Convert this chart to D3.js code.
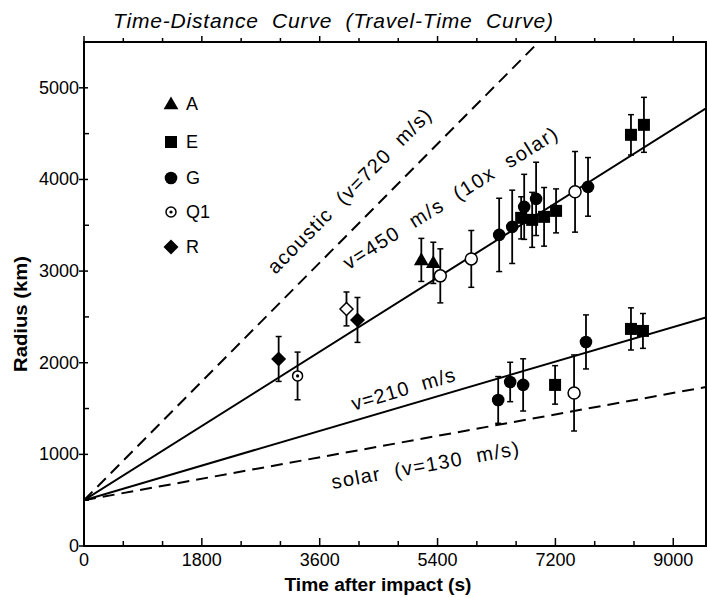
<!DOCTYPE html>
<html>
<head>
<meta charset="utf-8">
<script src="https://cdn.jsdelivr.net/npm/d3@7"></script>
<style>
  body { margin: 0; background: #fff; }
  svg text { font-family: "Liberation Sans", Arial, Helvetica, sans-serif; fill: #000; }
</style>
</head>
<body>
<svg id="chart" width="707" height="598"></svg>
<script>
// travel-time model lines (R = R0 + v t)
const lineVel = [720, 450, 210, 130];          // m/s
const lineDash = [true, false, false, true];
const lineLabel = ["acoustic  (v=720  m/s)", "v=450  m/s  (10x  solar)", "v=210  m/s", "solar  (v=130  m/s)"];
const startRadius = 500;                         // km at t=0

// observations: time (s), radius (km), error (km), marker type
const obsTime = [2973, 3262, 4009, 4177, 5152, 5335, 5442, 5915, 6341, 6540, 6677, 6723, 6845, 6905, 7027, 7210, 7500, 7698, 8354, 8552,
                 6326, 6509, 6707, 7195, 7485, 7667, 8354, 8537];
const obsRadius = [2041, 1856, 2587, 2467, 3122, 3090, 2948, 3133, 3395, 3483, 3581, 3701, 3559, 3788, 3592, 3657, 3865, 3919, 4487, 4596,
                   1594, 1790, 1758, 1758, 1670, 2227, 2369, 2347];
const obsError = [245, 260, 185, 245, 235, 225, 295, 310, 400, 400, 230, 355, 300, 400, 320, 240, 440, 320, 220, 300,
                  255, 215, 285, 210, 415, 295, 230, 190];
const obsType = ["R", "Q1", "Ro", "R", "A", "A", "o", "o", "G", "G", "E", "G", "E", "G", "E", "E", "o", "G", "E", "E",
                 "G", "G", "G", "E", "o", "G", "E", "E"];

const legendKeys = ["A", "E", "G", "Q1", "R"];

const xTicks = [0, 1800, 3600, 5400, 7200, 9000];
const yTicks = [0, 1000, 2000, 3000, 4000, 5000];

const svg = d3.select("#chart");
const L = 84, R = 706, T = 42, B = 546;

const x = d3.scaleLinear().domain([0, 9500]).range([L, R]);
const y = d3.scaleLinear().domain([0, 5500]).range([B, T]);

svg.append("clipPath").attr("id", "plotclip")
  .append("rect").attr("x", L).attr("y", T).attr("width", R - L).attr("height", B - T);

// title
svg.append("text")
  .attr("x", 113).attr("y", 28)
  .attr("font-size", 21).attr("font-style", "italic")
  .attr("textLength", 440).attr("lengthAdjust", "spacing")
  .style("white-space", "pre")
  .text("Time-Distance  Curve  (Travel-Time  Curve)");

// frame
svg.append("rect")
  .attr("x", L).attr("y", T).attr("width", R - L).attr("height", B - T)
  .attr("fill", "none").attr("stroke", "#000").attr("stroke-width", 2);

// x ticks (inward from bottom, outward on top)
const xMinor = d3.range(0, 9500, 600);
svg.append("g").selectAll("line").data(xMinor).enter().append("line")
  .attr("x1", d => x(d)).attr("x2", d => x(d))
  .attr("y1", B).attr("y2", d => B - (d % 1800 === 0 ? 8 : 5))
  .attr("stroke", "#000").attr("stroke-width", 1.5);
svg.append("g").selectAll("line").data(xMinor).enter().append("line")
  .attr("x1", d => x(d)).attr("x2", d => x(d))
  .attr("y1", T).attr("y2", d => T - (d % 1800 === 0 ? 6 : 4))
  .attr("stroke", "#000").attr("stroke-width", 1.5);
svg.selectAll(".xlab").data(xTicks).enter().append("text")
  .attr("class", "xlab")
  .attr("x", d => x(d)).attr("y", B + 20)
  .attr("text-anchor", "middle").attr("font-size", 18)
  .text(d => d);

// y ticks
svg.append("g").selectAll("line").data(d3.range(0, 5500, 500)).enter().append("line")
  .attr("x1", d => d % 1000 === 0 ? L - 5 : L).attr("x2", d => L + (d % 1000 === 0 ? 4 : 5))
  .attr("y1", d => y(d)).attr("y2", d => y(d))
  .attr("stroke", "#000").attr("stroke-width", 1.5);
svg.selectAll(".ylab").data(yTicks).enter().append("text")
  .attr("class", "ylab")
  .attr("x", L - 5).attr("y", d => y(d) + 6)
  .attr("text-anchor", "end").attr("font-size", 18)
  .text(d => d);

// axis titles
svg.append("text")
  .attr("x", 378).attr("y", 591)
  .attr("text-anchor", "middle").attr("font-size", 18).attr("font-weight", "bold")
  .attr("textLength", 187).attr("lengthAdjust", "spacingAndGlyphs")
  .text("Time after impact (s)");
svg.append("text")
  .attr("transform", `translate(27,314) rotate(-90)`)
  .attr("text-anchor", "middle").attr("font-size", 18).attr("font-weight", "bold")
  .attr("textLength", 116).attr("lengthAdjust", "spacingAndGlyphs")
  .text("Radius (km)");

// model lines
const lineGen = d3.line().x(d => x(d[0])).y(d => y(d[1]));
const lines = svg.append("g").attr("clip-path", "url(#plotclip)");
lineVel.forEach((v, i) => {
  const tEnd = 9500;
  lines.append("path")
    .attr("d", lineGen([[0, startRadius], [tEnd, startRadius + v / 1000 * tEnd]]))
    .attr("fill", "none").attr("stroke", "#000").attr("stroke-width", 2)
    .attr("stroke-dasharray", lineDash[i] ? "12,7" : null);
});

// line labels, rotated along each line
const labelPos = [[349, 191], [450, 198], [403, 389], [425, 465]];
const labelLen = [223, 249, 107, 190];
lineVel.forEach((v, i) => {
  const slope = (y(0) - y(v)) / (x(1000) - x(0));
  const ang = -Math.atan(slope) * 180 / Math.PI;
  svg.append("text")
    .attr("transform", `translate(${labelPos[i][0]},${labelPos[i][1]}) rotate(${ang})`)
    .attr("text-anchor", "middle").attr("dy", "0.35em")
    .attr("font-size", 20)
    .attr("textLength", labelLen[i]).attr("lengthAdjust", "spacing")
    .style("white-space", "pre")
    .text(lineLabel[i]);
});

// markers
function drawMarker(g, type, cx, cy) {
  if (type === "A") {
    g.append("path").attr("d", d3.symbol(d3.symbolTriangle, 95)()).attr("transform", `translate(${cx},${cy + 1})`).attr("fill", "#000");
  } else if (type === "E") {
    g.append("rect").attr("x", cx - 6).attr("y", cy - 6).attr("width", 12).attr("height", 12).attr("fill", "#000");
  } else if (type === "G") {
    g.append("circle").attr("cx", cx).attr("cy", cy).attr("r", 6.3).attr("fill", "#000");
  } else if (type === "Q1") {
    g.append("circle").attr("cx", cx).attr("cy", cy).attr("r", 5).attr("fill", "#fff").attr("stroke", "#000").attr("stroke-width", 1.5);
    g.append("circle").attr("cx", cx).attr("cy", cy).attr("r", 1.6).attr("fill", "#000");
  } else if (type === "o") {
    g.append("circle").attr("cx", cx).attr("cy", cy).attr("r", 6).attr("fill", "#fff").attr("stroke", "#000").attr("stroke-width", 1.5);
  } else if (type === "R" || type === "Ro") {
    const s = type === "R" ? 7.5 : 6.5;
    g.append("path").attr("d", `M0,${-s}L${s},0L0,${s}L${-s},0Z`).attr("transform", `translate(${cx},${cy})`)
      .attr("fill", type === "R" ? "#000" : "#fff")
      .attr("stroke", "#000").attr("stroke-width", type === "R" ? 0 : 1.5);
  }
}

const pts = svg.append("g");
obsTime.forEach((t, i) => {
  const cx = x(t), r = obsRadius[i], e = obsError[i];
  const g = pts.append("g");
  g.append("line").attr("x1", cx).attr("x2", cx).attr("y1", y(r - e)).attr("y2", y(r + e))
    .attr("stroke", "#000").attr("stroke-width", 1.8);
  [r - e, r + e].forEach(v => g.append("line")
    .attr("x1", cx - 3).attr("x2", cx + 3).attr("y1", y(v)).attr("y2", y(v))
    .attr("stroke", "#000").attr("stroke-width", 1.5));
  drawMarker(g, obsType[i], cx, y(r));
});

// legend
const legY = [104, 142, 178, 212, 247];
legendKeys.forEach((k, i) => {
  const g = svg.append("g");
  drawMarker(g, k, 171, legY[i]);
  g.append("text").attr("x", 186).attr("y", legY[i] + 6).attr("font-size", 18).text(k);
});
</script>
</body>
</html>
